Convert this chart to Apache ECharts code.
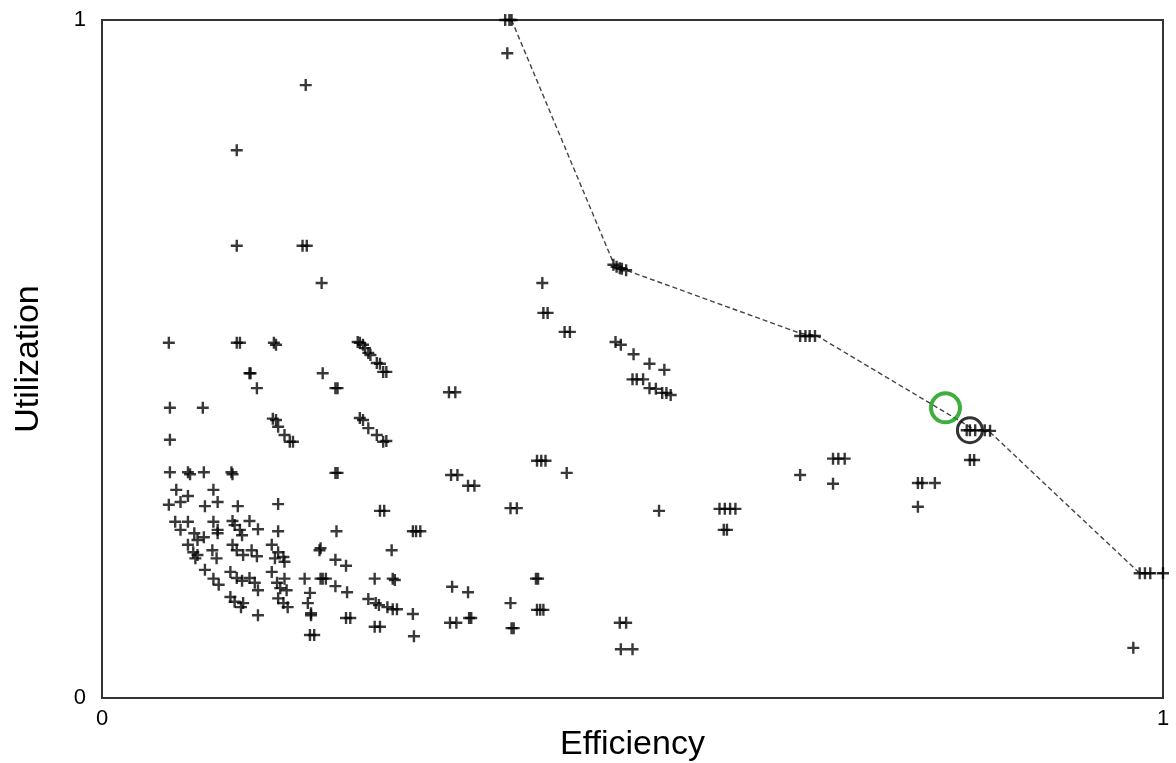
<!DOCTYPE html>
<html>
<head>
<meta charset="utf-8">
<script src="https://cdn.jsdelivr.net/npm/echarts@6/dist/echarts.min.js"></script>
<style>html,body{margin:0;padding:0;background:#fff}#c{width:1176px;height:763px}</style>
</head>
<body>
<div id="c"></div>
<script>
// Scatter configurations: [efficiency, utilization]
const configPoints = [
  [0.380,1.0],[0.384,1.0],[0.386,1.0],[0.382,0.951],[0.192,0.904],[0.127,0.808],[0.127,0.667],
  [0.189,0.667],[0.193,0.667],[0.207,0.612],[0.415,0.612],[0.482,0.639],[0.485,0.636],[0.488,0.634],
  [0.490,0.633],[0.494,0.631],[0.416,0.568],[0.420,0.568],[0.436,0.540],[0.441,0.540],[0.484,0.525],
  [0.489,0.521],[0.501,0.507],[0.516,0.493],[0.530,0.484],[0.500,0.470],[0.504,0.470],[0.510,0.470],
  [0.516,0.457],[0.522,0.456],[0.528,0.450],[0.532,0.450],[0.536,0.447],[0.327,0.451],[0.333,0.451],
  [0.410,0.350],[0.414,0.350],[0.418,0.350],[0.438,0.332],[0.329,0.329],[0.335,0.329],[0.345,0.313],
  [0.351,0.313],[0.385,0.280],[0.391,0.280],[0.525,0.276],[0.582,0.279],[0.587,0.279],[0.592,0.279],
  [0.597,0.279],[0.586,0.248],[0.589,0.248],[0.330,0.164],[0.345,0.156],[0.409,0.176],[0.411,0.176],
  [0.385,0.140],[0.410,0.130],[0.413,0.130],[0.416,0.130],[0.328,0.111],[0.334,0.111],[0.346,0.118],
  [0.348,0.118],[0.386,0.103],[0.388,0.103],[0.488,0.111],[0.494,0.111],[0.489,0.072],[0.500,0.072],
  [0.658,0.534],[0.663,0.534],[0.667,0.534],[0.672,0.534],[0.815,0.395],[0.818,0.395],[0.823,0.395],
  [0.832,0.395],[0.837,0.394],[0.818,0.351],[0.822,0.351],[0.689,0.353],[0.694,0.353],[0.700,0.353],
  [0.658,0.329],[0.689,0.316],[0.769,0.317],[0.773,0.317],[0.785,0.317],[0.769,0.282],[0.972,0.074],
  [0.978,0.184],[0.983,0.184],[0.988,0.184],[1.0,0.184],
  [0.063,0.524],[0.127,0.524],[0.130,0.524],[0.162,0.524],[0.164,0.521],[0.241,0.525],[0.243,0.524],
  [0.246,0.521],[0.248,0.516],[0.251,0.509],[0.253,0.506],[0.259,0.494],[0.262,0.493],[0.265,0.481],
  [0.268,0.481],[0.139,0.479],[0.140,0.479],[0.146,0.457],[0.208,0.479],[0.220,0.457],[0.222,0.457],
  [0.064,0.428],[0.095,0.428],[0.161,0.412],[0.164,0.410],[0.166,0.400],[0.172,0.388],[0.177,0.378],
  [0.180,0.378],[0.243,0.413],[0.246,0.410],[0.251,0.398],[0.259,0.388],[0.265,0.378],[0.268,0.379],
  [0.064,0.381],[0.220,0.332],[0.222,0.332],[0.064,0.333],[0.081,0.333],[0.083,0.330],[0.096,0.333],
  [0.122,0.333],[0.123,0.330],
  [0.070,0.307],[0.081,0.298],[0.074,0.289],[0.063,0.285],[0.105,0.307],[0.097,0.283],[0.109,0.289],
  [0.128,0.283],[0.166,0.286],[0.069,0.260],[0.081,0.260],[0.105,0.260],[0.123,0.261],[0.139,0.261],
  [0.074,0.248],[0.087,0.243],[0.090,0.233],[0.096,0.237],[0.109,0.248],[0.109,0.243],[0.125,0.255],
  [0.130,0.248],[0.132,0.240],[0.147,0.249],[0.166,0.246],[0.081,0.226],[0.086,0.215],[0.088,0.206],
  [0.090,0.211],[0.104,0.218],[0.108,0.206],[0.123,0.226],[0.127,0.218],[0.133,0.211],[0.141,0.218],
  [0.146,0.209],[0.160,0.226],[0.166,0.215],[0.171,0.208],[0.172,0.201],[0.163,0.206],[0.097,0.189],
  [0.105,0.176],[0.110,0.167],[0.121,0.186],[0.127,0.177],[0.132,0.173],[0.139,0.177],[0.144,0.170],
  [0.147,0.159],[0.160,0.186],[0.165,0.170],[0.168,0.162],[0.172,0.176],[0.174,0.159],[0.121,0.149],
  [0.125,0.142],[0.131,0.134],[0.133,0.140],[0.147,0.122],[0.166,0.147],[0.171,0.140],[0.175,0.134],
  [0.262,0.276],[0.266,0.276],[0.293,0.246],[0.296,0.246],[0.300,0.246],[0.221,0.246],[0.205,0.218],
  [0.206,0.221],[0.273,0.218],[0.220,0.204],[0.230,0.195],[0.191,0.176],[0.206,0.176],[0.208,0.176],
  [0.211,0.176],[0.220,0.165],[0.231,0.156],[0.257,0.176],[0.274,0.176],[0.276,0.174],[0.196,0.155],
  [0.194,0.140],[0.197,0.122],[0.197,0.125],[0.251,0.146],[0.258,0.140],[0.261,0.137],[0.269,0.134],
  [0.274,0.131],[0.278,0.131],[0.293,0.124],[0.230,0.118],[0.234,0.118],[0.257,0.105],[0.262,0.105],
  [0.196,0.093],[0.200,0.093],[0.294,0.091]
];
// Pareto frontier
const frontierX = [0.386, 0.483, 0.494, 0.658, 0.673, 0.823, 0.837, 0.978, 1.0];
const frontierY = [1.0, 0.638, 0.631, 0.538, 0.535, 0.395, 0.392, 0.184, 0.184];
// Highlighted configurations
const greenMark = [0.795, 0.428];
const blackMark = [0.818, 0.395];
const axisTicks = [0, 1];

const plus = 'path://M0,4H10V6H0ZM4,0H6V10H4Z';
const chart = echarts.init(document.getElementById('c'));
const font = 'Liberation Sans, Arial, sans-serif';
chart.setOption({
  animation: false,
  grid: {left: 102, right: 13, top: 20, bottom: 65, outerBoundsMode: 'none', containLabel: false,
         show: true, borderColor: '#333', borderWidth: 2},
  xAxis: {
    type: 'value', min: axisTicks[0], max: axisTicks[1], interval: 1,
    name: 'Efficiency', nameLocation: 'middle', nameGap: 30, nameMoveOverlap: false,
    nameTextStyle: {fontFamily: font, fontSize: 34, color: '#000'},
    axisLine: {show: true, lineStyle: {color: '#333', width: 2}},
    axisTick: {show: true, inside: true, length: 10, lineStyle: {color: '#333', width: 2}},
    axisLabel: {fontFamily: font, fontSize: 22, color: '#000', margin: 10},
    splitLine: {show: false}
  },
  yAxis: {
    type: 'value', min: axisTicks[0], max: axisTicks[1], interval: 1,
    name: 'Utilization', nameLocation: 'middle', nameGap: 56, nameMoveOverlap: false,
    nameTextStyle: {fontFamily: font, fontSize: 34, color: '#000'},
    axisLine: {show: true, lineStyle: {color: '#333', width: 2}},
    axisTick: {show: true, inside: true, length: 10, lineStyle: {color: '#333', width: 2}},
    axisLabel: {fontFamily: font, fontSize: 22, color: '#000', margin: 16},
    splitLine: {show: false}
  },
  series: [
    {
      type: 'line', data: frontierX.map((x, i) => [x, frontierY[i]]),
      symbol: 'none', lineStyle: {color: '#444', width: 1.4, type: [5, 3]}, z: 2, clip: false
    },
    {
      type: 'scatter', data: configPoints, symbol: plus, symbolSize: 12,
      itemStyle: {color: '#000', opacity: 0.78}, z: 3, clip: false
    },
    {
      type: 'scatter', data: [greenMark], symbol: 'circle', symbolSize: 29,
      itemStyle: {color: 'rgba(0,0,0,0)', borderColor: '#0f9a0f', borderWidth: 4}, z: 4
    },
    {
      type: 'scatter', data: [blackMark], symbol: 'circle', symbolSize: 25,
      itemStyle: {color: 'rgba(0,0,0,0)', borderColor: '#000', borderWidth: 3}, z: 4
    }
  ]
});
</script>
</body>
</html>
